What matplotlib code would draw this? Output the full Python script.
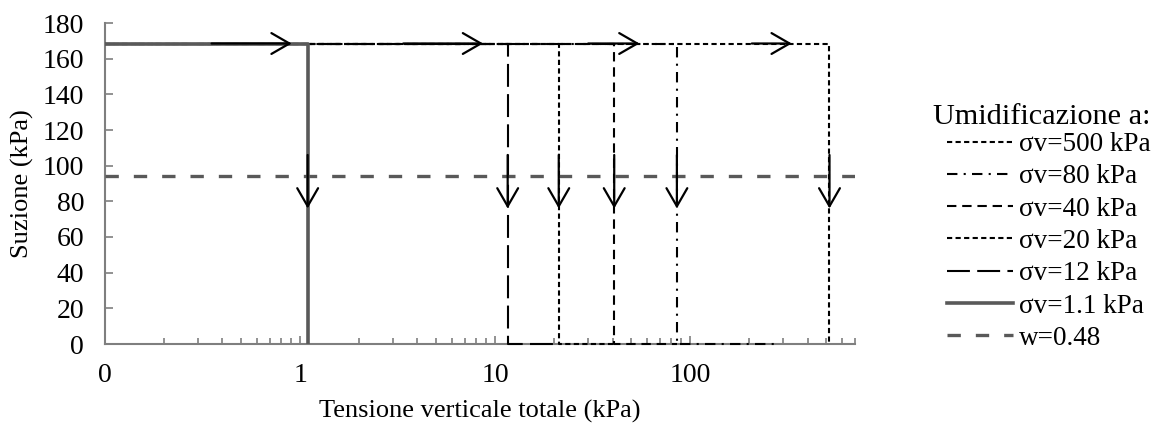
import matplotlib
matplotlib.use("Agg")
import matplotlib.pyplot as plt
from matplotlib.lines import Line2D
from matplotlib.ticker import FixedLocator, NullFormatter

plt.rcParams['font.family'] = ['Liberation Serif', 'DejaVu Serif']

# ---- data ----
series_labels = ["σv=500 kPa", "σv=80 kPa", "σv=40 kPa", "σv=20 kPa", "σv=12 kPa", "σv=1.1 kPa"]
wetting_stress = [518, 85.5, 40.8, 21.2, 11.6, 1.094]      # kPa, where wetting happens
end_stress_at_zero = [518, 273, 85.5, 40.8, 20.0, 1.094]   # loading after wetting (suction 0)
start_stress = 0.1
initial_suction = 168.5
final_suction = 0
w_label = "w=0.48"
w_suction = 94
legend_title = "Umidificazione a:"
x_limits = [0.1, 700]
x_tick_values = [0.1, 1, 10, 100]
x_tick_labels = ["0", "1", "10", "100"]
y_tick_values = [0, 20, 40, 60, 80, 100, 120, 140, 160, 180]
h_arrows = [(0.352, 0.906), (3.38, 8.68), (30, 55), (207, 332)]
v_arrow_top = 106
v_arrow_bottom = 76

# ---- styles ----
GRAY = "#595959"
FS = 19
styles = [
    dict(color="black", lw=1.5, dashes=(2.5, 1.6)),
    dict(color="black", lw=1.5, dashes=(5, 3, 1, 3)),
    dict(color="black", lw=1.5, dashes=(4.5, 2.8)),
    dict(color="black", lw=1.5, dashes=(2.5, 1.6)),
    dict(color="black", lw=1.5, dashes=(11, 3.5)),
    dict(color=GRAY, lw=2.6, linestyle="-"),
]
w_style = dict(color=GRAY, lw=2.4, dashes=(4, 4.5))

fig = plt.figure(figsize=(11.58, 4.24), dpi=100)
ax = fig.add_axes([105 / 1158, 80 / 424, 750 / 1158, 321 / 424])

handles = []
for lab, xw, xe, st in zip(series_labels, wetting_stress, end_stress_at_zero, styles):
    xs = [start_stress, xw, xw]
    ys = [initial_suction, initial_suction, final_suction]
    if xe > xw:
        xs.append(xe)
        ys.append(final_suction)
    ax.plot(xs, ys, solid_capstyle="butt", dash_capstyle="butt", clip_on=False,
            zorder=3, **st)
    handles.append(Line2D([], [], **st))

ax.axhline(w_suction, dash_capstyle="butt", zorder=3, **w_style)
handles.append(Line2D([], [], dash_capstyle="butt", **w_style))
labels = series_labels + [w_label]

arrow_kw = dict(arrowstyle="->,head_length=1.3,head_width=0.75", color="black",
                lw=1.6, mutation_scale=10, shrinkA=0, shrinkB=0)
for x0, x1 in h_arrows:
    ax.annotate("", xy=(x1, initial_suction), xytext=(x0, initial_suction),
                arrowprops=arrow_kw, zorder=4)
for xw in wetting_stress:
    ax.annotate("", xy=(xw, v_arrow_bottom), xytext=(xw, v_arrow_top),
                arrowprops=arrow_kw, zorder=4)

ax.set_xscale("log")
ax.set_xlim(*x_limits)
ax.set_ylim(0, 180)
ax.xaxis.set_major_locator(FixedLocator(x_tick_values))
ax.set_xticklabels(x_tick_labels)
minors = [m * d for d in (0.1, 1, 10, 100) for m in range(2, 10) if m * d <= x_limits[1] + 1e-9]
ax.xaxis.set_minor_locator(FixedLocator(minors))
ax.xaxis.set_minor_formatter(NullFormatter())
ax.set_yticks(y_tick_values)

for s in ("top", "right"):
    ax.spines[s].set_visible(False)
for s in ("left", "bottom"):
    ax.spines[s].set_color("#7f7f7f")
    ax.spines[s].set_linewidth(1.5)
    ax.spines[s].set_zorder(2)

ax.tick_params(axis="both", which="both", direction="in", color="#7f7f7f", width=1.2,
               labelsize=20)
ax.tick_params(axis="y", which="major", length=6, pad=15)
ax.tick_params(axis="x", which="major", length=6, pad=14)
ax.tick_params(axis="x", which="minor", length=4.5)

ax.set_xlabel("Tensione verticale totale (kPa)", fontsize=FS, labelpad=8)
ax.set_ylabel("Suzione (kPa)", fontsize=FS, labelpad=6)

fig.text(933 / 1158, 1 - 117 / 424, legend_title, fontsize=21.8, ha="left", va="center")
LFS = 19.5
fig.legend(handles, labels, loc="upper left",
           bbox_to_anchor=(947 / 1158, 1 - 132 / 424), frameon=False,
           fontsize=LFS, handlelength=2.45, handletextpad=0.2,
           labelspacing=0.27, borderpad=0, borderaxespad=0)

fig.savefig("out.png", dpi=100)
